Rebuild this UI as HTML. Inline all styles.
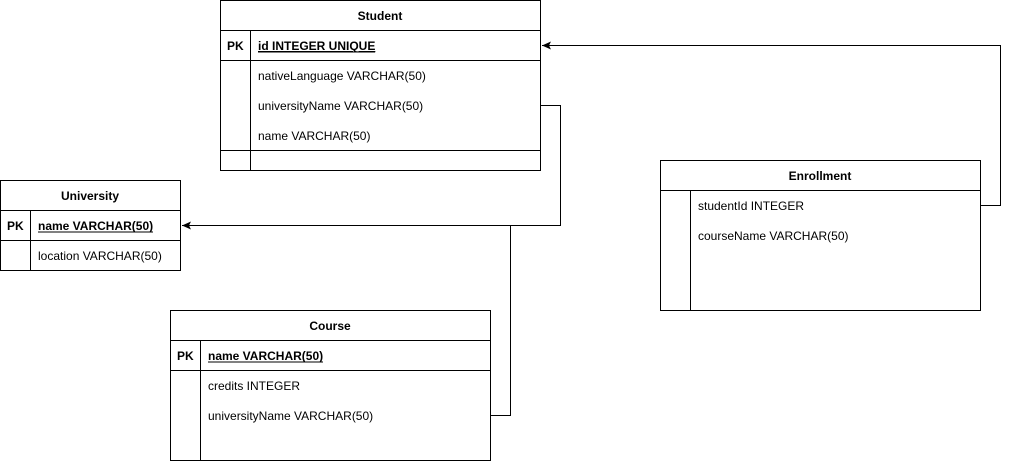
<!DOCTYPE html>
<html><head><meta charset="utf-8"><style>
html,body{margin:0;padding:0;background:#fff;}
svg{display:block;}
text{font-family:"Liberation Sans",sans-serif;font-size:12px;fill:#000;}
.b{font-weight:bold;}
</style></head><body>
<svg width="1009" height="461" viewBox="0 0 1009 461" xmlns="http://www.w3.org/2000/svg">
<defs><marker id="ar" markerWidth="10" markerHeight="10" refX="9" refY="5" orient="auto" markerUnits="userSpaceOnUse"><path d="M0,1 L9,5 L0,9 L2,5 Z" fill="#000"/></marker></defs>
<g fill="none" stroke="#000" stroke-width="1">
<!-- Student -->
<rect x="220.5" y="0.5" width="320" height="170"/>
<line x1="220.5" y1="30.5" x2="540.5" y2="30.5"/>
<line x1="220.5" y1="60.5" x2="540.5" y2="60.5"/>
<line x1="220.5" y1="150.5" x2="540.5" y2="150.5"/>
<line x1="250.5" y1="30.5" x2="250.5" y2="170.5"/>
<!-- University -->
<rect x="0.5" y="180.5" width="180" height="90"/>
<line x1="0.5" y1="210.5" x2="180.5" y2="210.5"/>
<line x1="0.5" y1="240.5" x2="180.5" y2="240.5"/>
<line x1="30.5" y1="210.5" x2="30.5" y2="270.5"/>
<!-- Course -->
<rect x="170.5" y="310.5" width="320" height="150"/>
<line x1="170.5" y1="340.5" x2="490.5" y2="340.5"/>
<line x1="170.5" y1="370.5" x2="490.5" y2="370.5"/>
<line x1="200.5" y1="340.5" x2="200.5" y2="460.5"/>
<!-- Enrollment -->
<rect x="660.5" y="160.5" width="320" height="150"/>
<line x1="660.5" y1="190.5" x2="980.5" y2="190.5"/>
<line x1="690.5" y1="190.5" x2="690.5" y2="310.5"/>
<!-- connectors -->
<polyline points="540.5,105.5 560.5,105.5 560.5,225.5 182,225.5" marker-end="url(#ar)"/>
<polyline points="490.5,415.5 510.5,415.5 510.5,225.5"/>
<polyline points="980.5,205.5 1000.5,205.5 1000.5,45.5 542,45.5" marker-end="url(#ar)"/>
</g>
<text class="b" x="380" y="20" text-anchor="middle">Student</text>
<text class="b" x="227" y="50">PK</text>
<text class="b" x="258" y="50" text-decoration="underline">id INTEGER UNIQUE</text>
<line x1="258" y1="52" x2="375" y2="52" stroke="#000"/>
<text x="258" y="80">nativeLanguage VARCHAR(50)</text>
<text x="258" y="110">universityName VARCHAR(50)</text>
<text x="258" y="140">name VARCHAR(50)</text>

<text class="b" x="90" y="200" text-anchor="middle">University</text>
<text class="b" x="7" y="230">PK</text>
<text class="b" x="38" y="230">name VARCHAR(50)</text>
<line x1="38" y1="232" x2="153" y2="232" stroke="#000"/>
<text x="38" y="260">location VARCHAR(50)</text>

<text class="b" x="330" y="330" text-anchor="middle">Course</text>
<text class="b" x="177" y="360">PK</text>
<text class="b" x="208" y="360">name VARCHAR(50)</text>
<line x1="208" y1="362" x2="323" y2="362" stroke="#000"/>
<text x="208" y="390">credits INTEGER</text>
<text x="208" y="420">universityName VARCHAR(50)</text>

<text class="b" x="820" y="180" text-anchor="middle">Enrollment</text>
<text x="698" y="210">studentId INTEGER</text>
<text x="698" y="240">courseName VARCHAR(50)</text>
</svg>
</body></html>
